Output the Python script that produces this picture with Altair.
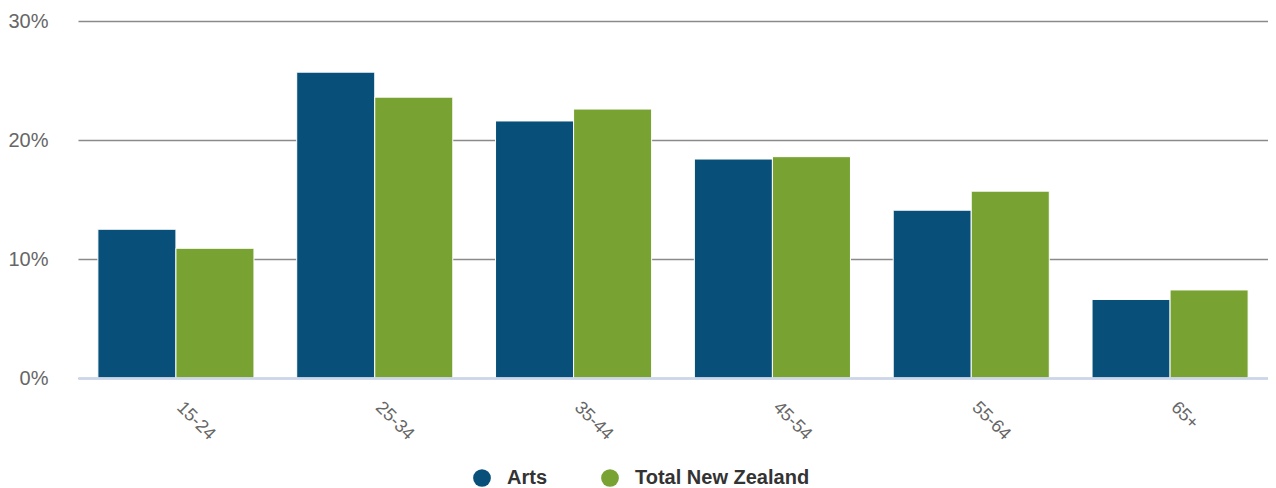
import altair as alt
import pandas as pd

age_groups = ["15-24", "25-34", "35-44", "45-54", "55-64", "65+"]
arts = [12.5, 25.7, 21.6, 18.4, 14.1, 6.6]
total_nz = [10.9, 23.6, 22.6, 18.6, 15.7, 7.4]
series = ["Arts", "Total New Zealand"]
colors = ["#08507A", "#78A232"]

rows = []
for g, a, t in zip(age_groups, arts, total_nz):
    rows.append({"age": g, "series": series[0], "value": a})
    rows.append({"age": g, "series": series[1], "value": t})
df = pd.DataFrame(rows)

FONT = "Liberation Sans"

chart = alt.Chart(df).mark_bar(stroke="white", strokeWidth=1).encode(
    x=alt.X("age:N", sort=age_groups, title=None,
            scale=alt.Scale(paddingInner=0.215, paddingOuter=0.1),
            axis=alt.Axis(labelAngle=45, labelAlign="left", labelBaseline="top",
                          labelPadding=20, labelOffset=10,
                          labelFontSize=18, labelColor="#666666",
                          labelFont=FONT, ticks=False, domainColor="#ccd6eb",
                          domainWidth=2.5, zindex=1, grid=False)),
    xOffset=alt.XOffset("series:N", sort=series),
    y=alt.Y("value:Q", title=None,
            scale=alt.Scale(domain=[0, 30], nice=False),
            axis=alt.Axis(values=[0, 10, 20, 30], labelExpr="datum.value + '%'",
                          labelFontSize=20, labelColor="#666666", labelFont=FONT,
                          labelPadding=30, ticks=False, domain=False,
                          gridColor="#8a8a8a", gridWidth=1.6)),
    color=alt.Color("series:N", sort=series,
                    scale=alt.Scale(domain=series, range=colors),
                    legend=alt.Legend(title=None, orient="none", direction="horizontal",
                                      legendX=394, legendY=447,
                                      symbolType="circle", symbolSize=314,
                                      symbolStrokeWidth=0, labelLimit=400,
                                      labelFontSize=20, labelFontWeight="bold",
                                      labelColor="#333333", labelFont=FONT,
                                      labelOffset=15, columnPadding=52)),
).properties(
    width=1190, height=357,
    autosize=alt.AutoSizeParams(type="none"),
    padding={"left": 70, "top": 13, "right": 0, "bottom": 110},
).configure_view(stroke=None)

chart.save("out.html", embed_options={"renderer": "svg", "actions": False})
